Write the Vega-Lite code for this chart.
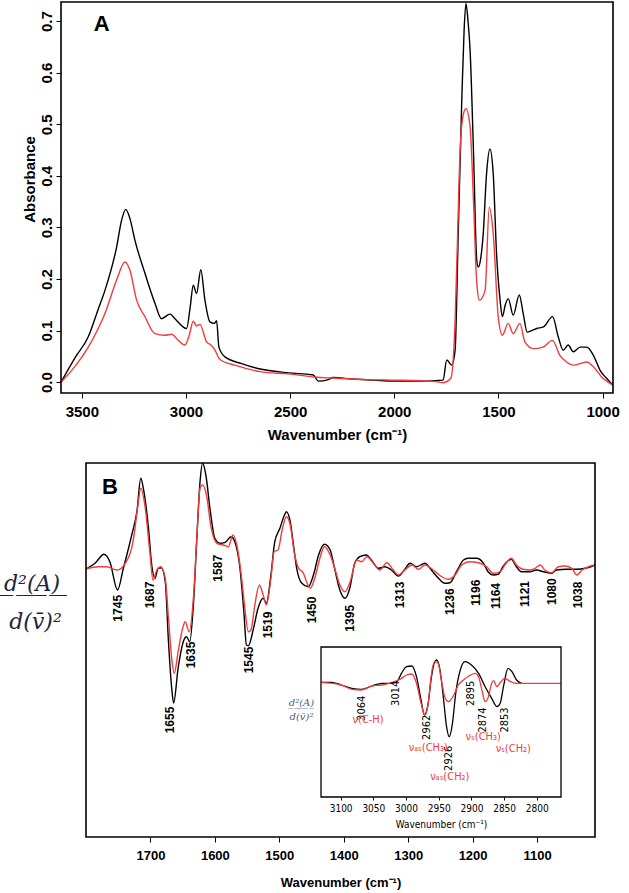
{
  "$schema": "https://vega.github.io/schema/vega-lite/v6.json",
  "width": 529,
  "height": 393,
  "autosize": "none",
  "padding": {"left": 100, "top": 0, "right": 0, "bottom": 500},
  "background": "white",
  "config": {
    "view": {"stroke": null},
    "axis": {"grid": false, "domain": false, "tickColor": "#000", "labelColor": "#000", "titleColor": "#000", "labelFlush": false, "labelOverlap": false, "labelFont": "Liberation Sans", "titleFont": "Liberation Sans"}
  },
  "datasets": {
    "specA": [
      {"wn": 3600, "v": 0.000, "s": "k"}, {"wn": 3530, "v": 0.049, "s": "k"}, {"wn": 3469, "v": 0.088, "s": "k"}, {"wn": 3420, "v": 0.143, "s": "k"},
      {"wn": 3389, "v": 0.178, "s": "k"}, {"wn": 3333, "v": 0.262, "s": "k"}, {"wn": 3309, "v": 0.314, "s": "k"}, {"wn": 3289, "v": 0.335, "s": "k"},
      {"wn": 3269, "v": 0.317, "s": "k"}, {"wn": 3245, "v": 0.275, "s": "k"}, {"wn": 3197, "v": 0.211, "s": "k"}, {"wn": 3149, "v": 0.153, "s": "k"},
      {"wn": 3117, "v": 0.123, "s": "k"}, {"wn": 3077, "v": 0.132, "s": "k"}, {"wn": 3053, "v": 0.123, "s": "k"}, {"wn": 2997, "v": 0.104, "s": "k"},
      {"wn": 2980, "v": 0.145, "s": "k"}, {"wn": 2965, "v": 0.188, "s": "k"}, {"wn": 2949, "v": 0.172, "s": "k"}, {"wn": 2929, "v": 0.218, "s": "k"},
      {"wn": 2909, "v": 0.159, "s": "k"}, {"wn": 2885, "v": 0.117, "s": "k"}, {"wn": 2864, "v": 0.114, "s": "k"}, {"wn": 2853, "v": 0.119, "s": "k"},
      {"wn": 2842, "v": 0.068, "s": "k"}, {"wn": 2813, "v": 0.049, "s": "k"}, {"wn": 2733, "v": 0.036, "s": "k"}, {"wn": 2637, "v": 0.025, "s": "k"},
      {"wn": 2509, "v": 0.018, "s": "k"}, {"wn": 2389, "v": 0.014, "s": "k"}, {"wn": 2365, "v": 0.002, "s": "k"}, {"wn": 2317, "v": 0.005, "s": "k"},
      {"wn": 2294, "v": 0.009, "s": "k"}, {"wn": 2200, "v": 0.006, "s": "k"}, {"wn": 2100, "v": 0.004, "s": "k"}, {"wn": 2006, "v": 0.002, "s": "k"},
      {"wn": 1900, "v": 0.002, "s": "k"}, {"wn": 1800, "v": 0.003, "s": "k"}, {"wn": 1766, "v": 0.004, "s": "k"}, {"wn": 1748, "v": 0.043, "s": "k"},
      {"wn": 1724, "v": 0.033, "s": "k"}, {"wn": 1708, "v": 0.062, "s": "k"}, {"wn": 1693, "v": 0.288, "s": "k"}, {"wn": 1676, "v": 0.547, "s": "k"},
      {"wn": 1665, "v": 0.680, "s": "k"}, {"wn": 1656, "v": 0.734, "s": "k"}, {"wn": 1646, "v": 0.700, "s": "k"}, {"wn": 1636, "v": 0.643, "s": "k"},
      {"wn": 1620, "v": 0.450, "s": "k"}, {"wn": 1604, "v": 0.236, "s": "k"}, {"wn": 1597, "v": 0.223, "s": "k"}, {"wn": 1585, "v": 0.240, "s": "k"},
      {"wn": 1573, "v": 0.288, "s": "k"}, {"wn": 1557, "v": 0.404, "s": "k"}, {"wn": 1541, "v": 0.452, "s": "k"}, {"wn": 1525, "v": 0.404, "s": "k"},
      {"wn": 1509, "v": 0.249, "s": "k"}, {"wn": 1492, "v": 0.159, "s": "k"}, {"wn": 1481, "v": 0.127, "s": "k"}, {"wn": 1467, "v": 0.150, "s": "k"},
      {"wn": 1453, "v": 0.162, "s": "k"}, {"wn": 1429, "v": 0.130, "s": "k"}, {"wn": 1400, "v": 0.169, "s": "k"}, {"wn": 1381, "v": 0.133, "s": "k"},
      {"wn": 1362, "v": 0.097, "s": "k"}, {"wn": 1340, "v": 0.100, "s": "k"}, {"wn": 1316, "v": 0.104, "s": "k"}, {"wn": 1284, "v": 0.107, "s": "k"},
      {"wn": 1240, "v": 0.127, "s": "k"}, {"wn": 1213, "v": 0.088, "s": "k"}, {"wn": 1189, "v": 0.062, "s": "k"}, {"wn": 1165, "v": 0.072, "s": "k"},
      {"wn": 1141, "v": 0.059, "s": "k"}, {"wn": 1108, "v": 0.068, "s": "k"}, {"wn": 1076, "v": 0.068, "s": "k"}, {"wn": 1044, "v": 0.052, "s": "k"},
      {"wn": 1012, "v": 0.023, "s": "k"}, {"wn": 980, "v": 0.007, "s": "k"}, {"wn": 950, "v": -0.006, "s": "k"},
      {"wn": 3600, "v": 0.000, "s": "r"}, {"wn": 3530, "v": 0.032, "s": "r"}, {"wn": 3469, "v": 0.068, "s": "r"}, {"wn": 3420, "v": 0.105, "s": "r"},
      {"wn": 3389, "v": 0.133, "s": "r"}, {"wn": 3333, "v": 0.198, "s": "r"}, {"wn": 3293, "v": 0.233, "s": "r"}, {"wn": 3269, "v": 0.217, "s": "r"},
      {"wn": 3237, "v": 0.159, "s": "r"}, {"wn": 3197, "v": 0.127, "s": "r"}, {"wn": 3149, "v": 0.094, "s": "r"}, {"wn": 3101, "v": 0.091, "s": "r"},
      {"wn": 3069, "v": 0.093, "s": "r"}, {"wn": 3037, "v": 0.081, "s": "r"}, {"wn": 3005, "v": 0.072, "s": "r"}, {"wn": 2985, "v": 0.090, "s": "r"},
      {"wn": 2965, "v": 0.118, "s": "r"}, {"wn": 2949, "v": 0.109, "s": "r"}, {"wn": 2933, "v": 0.112, "s": "r"}, {"wn": 2901, "v": 0.078, "s": "r"},
      {"wn": 2880, "v": 0.072, "s": "r"}, {"wn": 2861, "v": 0.062, "s": "r"}, {"wn": 2837, "v": 0.044, "s": "r"}, {"wn": 2765, "v": 0.033, "s": "r"},
      {"wn": 2637, "v": 0.020, "s": "r"}, {"wn": 2509, "v": 0.016, "s": "r"}, {"wn": 2381, "v": 0.010, "s": "r"}, {"wn": 2300, "v": 0.008, "s": "r"},
      {"wn": 2132, "v": 0.005, "s": "r"}, {"wn": 2000, "v": 0.004, "s": "r"}, {"wn": 1800, "v": 0.001, "s": "r"}, {"wn": 1765, "v": -0.001, "s": "r"},
      {"wn": 1728, "v": 0.008, "s": "r"}, {"wn": 1708, "v": 0.120, "s": "r"}, {"wn": 1695, "v": 0.300, "s": "r"}, {"wn": 1684, "v": 0.450, "s": "r"},
      {"wn": 1668, "v": 0.520, "s": "r"}, {"wn": 1656, "v": 0.530, "s": "r"}, {"wn": 1636, "v": 0.495, "s": "r"}, {"wn": 1620, "v": 0.353, "s": "r"},
      {"wn": 1604, "v": 0.192, "s": "r"}, {"wn": 1591, "v": 0.159, "s": "r"}, {"wn": 1564, "v": 0.178, "s": "r"}, {"wn": 1544, "v": 0.339, "s": "r"},
      {"wn": 1525, "v": 0.288, "s": "r"}, {"wn": 1501, "v": 0.127, "s": "r"}, {"wn": 1481, "v": 0.091, "s": "r"}, {"wn": 1453, "v": 0.114, "s": "r"},
      {"wn": 1429, "v": 0.094, "s": "r"}, {"wn": 1397, "v": 0.114, "s": "r"}, {"wn": 1373, "v": 0.078, "s": "r"}, {"wn": 1333, "v": 0.065, "s": "r"},
      {"wn": 1285, "v": 0.068, "s": "r"}, {"wn": 1241, "v": 0.081, "s": "r"}, {"wn": 1205, "v": 0.052, "s": "r"}, {"wn": 1173, "v": 0.039, "s": "r"},
      {"wn": 1141, "v": 0.033, "s": "r"}, {"wn": 1076, "v": 0.039, "s": "r"}, {"wn": 1044, "v": 0.030, "s": "r"}, {"wn": 1004, "v": 0.010, "s": "r"},
      {"wn": 950, "v": -0.006, "s": "r"}
    ],
    "specB": [
      {"wn": 1800, "v": -0.2, "s": "k"}, {"wn": 1786, "v": 0.37, "s": "k"}, {"wn": 1772, "v": 1.27, "s": "k"}, {"wn": 1763, "v": 0.53, "s": "k"},
      {"wn": 1751, "v": -2.3, "s": "k"}, {"wn": 1742, "v": -0.13, "s": "k"}, {"wn": 1729, "v": 3.2, "s": "k"}, {"wn": 1721, "v": 5.53, "s": "k"},
      {"wn": 1715, "v": 8.87, "s": "k"}, {"wn": 1711, "v": 7.87, "s": "k"}, {"wn": 1703, "v": 3.87, "s": "k"}, {"wn": 1698, "v": 0.2, "s": "k"},
      {"wn": 1693, "v": -1.13, "s": "k"}, {"wn": 1688, "v": -0.13, "s": "k"}, {"wn": 1683, "v": -0.07, "s": "k"}, {"wn": 1677, "v": -1.47, "s": "k"},
      {"wn": 1672, "v": -7.47, "s": "k"}, {"wn": 1667, "v": -12.1, "s": "k"}, {"wn": 1664, "v": -13.6, "s": "k"}, {"wn": 1657, "v": -10.1, "s": "k"},
      {"wn": 1649, "v": -7.47, "s": "k"}, {"wn": 1644, "v": -6.97, "s": "k"}, {"wn": 1639, "v": -7.47, "s": "k"}, {"wn": 1633, "v": -3.47, "s": "k"},
      {"wn": 1628, "v": 2.87, "s": "k"}, {"wn": 1623, "v": 8.53, "s": "k"}, {"wn": 1619, "v": 10.37, "s": "k"}, {"wn": 1614, "v": 9.2, "s": "k"},
      {"wn": 1607, "v": 5.53, "s": "k"}, {"wn": 1600, "v": 2.87, "s": "k"}, {"wn": 1592, "v": 2.37, "s": "k"}, {"wn": 1584, "v": 2.47, "s": "k"},
      {"wn": 1575, "v": 3.03, "s": "k"}, {"wn": 1569, "v": 2.53, "s": "k"}, {"wn": 1561, "v": -0.13, "s": "k"}, {"wn": 1555, "v": -4.47, "s": "k"},
      {"wn": 1551, "v": -7.8, "s": "k"}, {"wn": 1548, "v": -7.87, "s": "k"}, {"wn": 1540, "v": -6.13, "s": "k"}, {"wn": 1533, "v": -4.13, "s": "k"},
      {"wn": 1525, "v": -3.13, "s": "k"}, {"wn": 1520, "v": -3.63, "s": "k"}, {"wn": 1513, "v": -0.8, "s": "k"}, {"wn": 1507, "v": 2.53, "s": "k"},
      {"wn": 1499, "v": 3.87, "s": "k"}, {"wn": 1492, "v": 5.2, "s": "k"}, {"wn": 1489, "v": 5.53, "s": "k"}, {"wn": 1483, "v": 4.53, "s": "k"},
      {"wn": 1478, "v": 2.2, "s": "k"}, {"wn": 1473, "v": -0.13, "s": "k"}, {"wn": 1465, "v": -1.63, "s": "k"}, {"wn": 1455, "v": -1.97, "s": "k"},
      {"wn": 1447, "v": -0.8, "s": "k"}, {"wn": 1439, "v": 1.2, "s": "k"}, {"wn": 1430, "v": 2.27, "s": "k"}, {"wn": 1421, "v": 1.7, "s": "k"},
      {"wn": 1414, "v": -0.2, "s": "k"}, {"wn": 1406, "v": -2.3, "s": "k"}, {"wn": 1398, "v": -3.13, "s": "k"}, {"wn": 1390, "v": -1.97, "s": "k"},
      {"wn": 1383, "v": 0.37, "s": "k"}, {"wn": 1375, "v": 1.03, "s": "k"}, {"wn": 1365, "v": 1.2, "s": "k"}, {"wn": 1357, "v": 0.7, "s": "k"},
      {"wn": 1346, "v": -0.13, "s": "k"}, {"wn": 1336, "v": 0.03, "s": "k"}, {"wn": 1326, "v": -0.3, "s": "k"}, {"wn": 1315, "v": -0.9, "s": "k"},
      {"wn": 1306, "v": -0.3, "s": "k"}, {"wn": 1297, "v": 0.37, "s": "k"}, {"wn": 1287, "v": 0.03, "s": "k"}, {"wn": 1274, "v": 0.37, "s": "k"},
      {"wn": 1264, "v": -0.3, "s": "k"}, {"wn": 1253, "v": -1.13, "s": "k"}, {"wn": 1243, "v": -1.63, "s": "k"}, {"wn": 1235, "v": -1.57, "s": "k"},
      {"wn": 1225, "v": -0.47, "s": "k"}, {"wn": 1214, "v": 0.7, "s": "k"}, {"wn": 1207, "v": 0.87, "s": "k"}, {"wn": 1194, "v": 0.87, "s": "k"},
      {"wn": 1183, "v": 0.37, "s": "k"}, {"wn": 1176, "v": -0.47, "s": "k"}, {"wn": 1168, "v": -0.8, "s": "k"}, {"wn": 1160, "v": -0.73, "s": "k"},
      {"wn": 1153, "v": 0.03, "s": "k"}, {"wn": 1140, "v": 0.77, "s": "k"}, {"wn": 1132, "v": 0.03, "s": "k"}, {"wn": 1124, "v": -0.47, "s": "k"},
      {"wn": 1111, "v": -0.47, "s": "k"}, {"wn": 1101, "v": -0.3, "s": "k"}, {"wn": 1090, "v": -0.47, "s": "k"}, {"wn": 1077, "v": -0.63, "s": "k"},
      {"wn": 1070, "v": -0.3, "s": "k"}, {"wn": 1054, "v": -0.23, "s": "k"}, {"wn": 1038, "v": -0.23, "s": "k"}, {"wn": 1025, "v": -0.13, "s": "k"},
      {"wn": 1010, "v": 0.2, "s": "k"},
      {"wn": 1800, "v": -0.2, "s": "r"}, {"wn": 1781, "v": 0.03, "s": "r"}, {"wn": 1768, "v": 0.03, "s": "r"}, {"wn": 1752, "v": -0.3, "s": "r"},
      {"wn": 1739, "v": 0.37, "s": "r"}, {"wn": 1727, "v": 2.53, "s": "r"}, {"wn": 1720, "v": 5.87, "s": "r"}, {"wn": 1715, "v": 7.87, "s": "r"},
      {"wn": 1708, "v": 5.87, "s": "r"}, {"wn": 1701, "v": 1.53, "s": "r"}, {"wn": 1696, "v": -1.3, "s": "r"}, {"wn": 1690, "v": -0.3, "s": "r"},
      {"wn": 1684, "v": 0.03, "s": "r"}, {"wn": 1677, "v": -1.13, "s": "r"}, {"wn": 1672, "v": -5.13, "s": "r"}, {"wn": 1667, "v": -9.13, "s": "r"},
      {"wn": 1663, "v": -10.63, "s": "r"}, {"wn": 1657, "v": -8.47, "s": "r"}, {"wn": 1650, "v": -6.13, "s": "r"}, {"wn": 1646, "v": -5.47, "s": "r"},
      {"wn": 1640, "v": -6.47, "s": "r"}, {"wn": 1633, "v": -2.8, "s": "r"}, {"wn": 1628, "v": 2.87, "s": "r"}, {"wn": 1623, "v": 7.87, "s": "r"},
      {"wn": 1619, "v": 8.2, "s": "r"}, {"wn": 1613, "v": 7.2, "s": "r"}, {"wn": 1606, "v": 4.03, "s": "r"}, {"wn": 1597, "v": 2.37, "s": "r"},
      {"wn": 1587, "v": 2.2, "s": "r"}, {"wn": 1579, "v": 2.03, "s": "r"}, {"wn": 1572, "v": 3.2, "s": "r"}, {"wn": 1566, "v": 2.2, "s": "r"},
      {"wn": 1559, "v": -0.8, "s": "r"}, {"wn": 1554, "v": -3.8, "s": "r"}, {"wn": 1548, "v": -6.47, "s": "r"}, {"wn": 1544, "v": -6.3, "s": "r"},
      {"wn": 1538, "v": -3.8, "s": "r"}, {"wn": 1531, "v": -1.8, "s": "r"}, {"wn": 1525, "v": -2.8, "s": "r"}, {"wn": 1520, "v": -3.8, "s": "r"},
      {"wn": 1513, "v": -1.13, "s": "r"}, {"wn": 1508, "v": 1.53, "s": "r"}, {"wn": 1502, "v": 1.7, "s": "r"}, {"wn": 1495, "v": 3.87, "s": "r"},
      {"wn": 1489, "v": 5.03, "s": "r"}, {"wn": 1483, "v": 4.2, "s": "r"}, {"wn": 1477, "v": 1.53, "s": "r"}, {"wn": 1470, "v": -0.13, "s": "r"},
      {"wn": 1464, "v": -0.47, "s": "r"}, {"wn": 1452, "v": -2.13, "s": "r"}, {"wn": 1445, "v": -1.13, "s": "r"}, {"wn": 1437, "v": 0.87, "s": "r"},
      {"wn": 1430, "v": 2.03, "s": "r"}, {"wn": 1421, "v": 1.2, "s": "r"}, {"wn": 1414, "v": -0.13, "s": "r"}, {"wn": 1406, "v": -1.8, "s": "r"},
      {"wn": 1398, "v": -2.47, "s": "r"}, {"wn": 1390, "v": -1.47, "s": "r"}, {"wn": 1380, "v": 0.7, "s": "r"}, {"wn": 1372, "v": 0.53, "s": "r"},
      {"wn": 1364, "v": 1.03, "s": "r"}, {"wn": 1354, "v": 0.37, "s": "r"}, {"wn": 1344, "v": -0.3, "s": "r"}, {"wn": 1333, "v": 0.43, "s": "r"},
      {"wn": 1323, "v": -0.3, "s": "r"}, {"wn": 1315, "v": -0.8, "s": "r"}, {"wn": 1305, "v": -0.3, "s": "r"}, {"wn": 1294, "v": 0.2, "s": "r"},
      {"wn": 1284, "v": -0.23, "s": "r"}, {"wn": 1274, "v": 0.2, "s": "r"}, {"wn": 1261, "v": -0.3, "s": "r"}, {"wn": 1248, "v": -0.97, "s": "r"},
      {"wn": 1238, "v": -1.23, "s": "r"}, {"wn": 1227, "v": -0.8, "s": "r"}, {"wn": 1217, "v": 0.2, "s": "r"}, {"wn": 1204, "v": 0.53, "s": "r"},
      {"wn": 1191, "v": 0.43, "s": "r"}, {"wn": 1178, "v": 0.03, "s": "r"}, {"wn": 1168, "v": -0.63, "s": "r"}, {"wn": 1157, "v": -0.47, "s": "r"},
      {"wn": 1150, "v": 0.2, "s": "r"}, {"wn": 1140, "v": 0.87, "s": "r"}, {"wn": 1132, "v": 0.2, "s": "r"}, {"wn": 1122, "v": -0.23, "s": "r"},
      {"wn": 1111, "v": -0.3, "s": "r"}, {"wn": 1103, "v": -0.13, "s": "r"}, {"wn": 1095, "v": 0.2, "s": "r"}, {"wn": 1088, "v": -0.3, "s": "r"},
      {"wn": 1077, "v": -0.57, "s": "r"}, {"wn": 1067, "v": 0.03, "s": "r"}, {"wn": 1057, "v": 0.1, "s": "r"}, {"wn": 1046, "v": -0.13, "s": "r"},
      {"wn": 1038, "v": -0.8, "s": "r"}, {"wn": 1030, "v": -0.3, "s": "r"}, {"wn": 1020, "v": 0.03, "s": "r"}, {"wn": 1010, "v": 0.2, "s": "r"}
    ],
    "labelsB": [
      {"wn": 1750, "v": -4.13, "t": "1745"}, {"wn": 1701, "v": -2.8, "t": "1687"}, {"wn": 1669, "v": -15.3, "t": "1655"},
      {"wn": 1637, "v": -8.8, "t": "1635"}, {"wn": 1595, "v": -0.13, "t": "1587"}, {"wn": 1547, "v": -9.3, "t": "1545"},
      {"wn": 1518, "v": -5.8, "t": "1519"}, {"wn": 1450, "v": -4.3, "t": "1450"}, {"wn": 1390, "v": -5.13, "t": "1395"},
      {"wn": 1313, "v": -2.8, "t": "1313"}, {"wn": 1235, "v": -3.47, "t": "1236"}, {"wn": 1194, "v": -2.57, "t": "1196"},
      {"wn": 1163, "v": -2.9, "t": "1164"}, {"wn": 1119, "v": -2.7, "t": "1121"}, {"wn": 1077, "v": -2.47, "t": "1080"},
      {"wn": 1036, "v": -2.8, "t": "1038"}
    ],
    "inset": [
      {"wn": 3130, "v": 0.07, "s": "k"}, {"wn": 3114, "v": 0.07, "s": "k"}, {"wn": 3099, "v": -0.2, "s": "k"}, {"wn": 3083, "v": -0.53, "s": "k"},
      {"wn": 3068, "v": -0.63, "s": "k"}, {"wn": 3052, "v": -0.3, "s": "k"}, {"wn": 3037, "v": -0.03, "s": "k"}, {"wn": 3024, "v": -0.03, "s": "k"},
      {"wn": 3014, "v": 0.13, "s": "k"}, {"wn": 3007, "v": 0.97, "s": "k"}, {"wn": 2999, "v": 1.63, "s": "k"}, {"wn": 2991, "v": 1.7, "s": "k"},
      {"wn": 2984, "v": 0.63, "s": "k"}, {"wn": 2977, "v": -1.7, "s": "k"}, {"wn": 2972, "v": -3.2, "s": "k"}, {"wn": 2967, "v": -2.37, "s": "k"},
      {"wn": 2961, "v": 0.63, "s": "k"}, {"wn": 2957, "v": 1.97, "s": "k"}, {"wn": 2953, "v": 2.3, "s": "k"}, {"wn": 2948, "v": 1.3, "s": "k"},
      {"wn": 2943, "v": -1.37, "s": "k"}, {"wn": 2938, "v": -4.37, "s": "k"}, {"wn": 2934, "v": -5.37, "s": "k"}, {"wn": 2929, "v": -4.03, "s": "k"},
      {"wn": 2924, "v": -1.03, "s": "k"}, {"wn": 2917, "v": 1.3, "s": "k"}, {"wn": 2910, "v": 2.13, "s": "k"}, {"wn": 2900, "v": 1.8, "s": "k"},
      {"wn": 2889, "v": 0.97, "s": "k"}, {"wn": 2879, "v": -0.37, "s": "k"}, {"wn": 2869, "v": -1.53, "s": "k"}, {"wn": 2861, "v": -2.37, "s": "k"},
      {"wn": 2856, "v": -2.03, "s": "k"}, {"wn": 2851, "v": -0.37, "s": "k"}, {"wn": 2844, "v": 1.47, "s": "k"}, {"wn": 2838, "v": 1.13, "s": "k"},
      {"wn": 2831, "v": 0.3, "s": "k"}, {"wn": 2823, "v": -0.03, "s": "k"},
      {"wn": 3130, "v": 0.07, "s": "r"}, {"wn": 3099, "v": -0.2, "s": "r"}, {"wn": 3083, "v": -0.63, "s": "r"}, {"wn": 3068, "v": -0.7, "s": "r"},
      {"wn": 3052, "v": -0.3, "s": "r"}, {"wn": 3037, "v": -0.2, "s": "r"}, {"wn": 3022, "v": 0.03, "s": "r"}, {"wn": 3009, "v": 0.37, "s": "r"},
      {"wn": 2999, "v": 0.8, "s": "r"}, {"wn": 2991, "v": 0.9, "s": "r"}, {"wn": 2984, "v": -0.03, "s": "r"}, {"wn": 2977, "v": -2.03, "s": "r"},
      {"wn": 2971, "v": -3.2, "s": "r"}, {"wn": 2966, "v": -2.03, "s": "r"}, {"wn": 2961, "v": 0.97, "s": "r"}, {"wn": 2956, "v": 2.13, "s": "r"},
      {"wn": 2951, "v": 1.97, "s": "r"}, {"wn": 2946, "v": 0.3, "s": "r"}, {"wn": 2940, "v": -1.53, "s": "r"}, {"wn": 2935, "v": -1.87, "s": "r"},
      {"wn": 2927, "v": -1.2, "s": "r"}, {"wn": 2920, "v": -0.2, "s": "r"}, {"wn": 2912, "v": 0.3, "s": "r"}, {"wn": 2904, "v": 0.7, "s": "r"},
      {"wn": 2894, "v": 0.97, "s": "r"}, {"wn": 2889, "v": 0.63, "s": "r"}, {"wn": 2884, "v": -0.7, "s": "r"}, {"wn": 2879, "v": -1.87, "s": "r"},
      {"wn": 2874, "v": -1.37, "s": "r"}, {"wn": 2869, "v": -0.03, "s": "r"}, {"wn": 2866, "v": 0.23, "s": "r"}, {"wn": 2861, "v": -0.37, "s": "r"},
      {"wn": 2856, "v": 0.03, "s": "r"}, {"wn": 2849, "v": 0.47, "s": "r"}, {"wn": 2840, "v": 0.13, "s": "r"}, {"wn": 2831, "v": -0.03, "s": "r"},
      {"wn": 2813, "v": -0.03, "s": "r"}, {"wn": 2763, "v": -0.03, "s": "r"}
    ],
    "insetLabels": [
      {"wn": 3068, "v": -2.53, "t": "3064"}, {"wn": 3015, "v": -1.03, "t": "3014"}, {"wn": 2968, "v": -4.43, "t": "2962"},
      {"wn": 2934, "v": -7.53, "t": "2926"}, {"wn": 2900, "v": -1.03, "t": "2895"}, {"wn": 2882, "v": -3.7, "t": "2874"},
      {"wn": 2849, "v": -3.7, "t": "2853"}
    ],
    "insetNotes": [
      {"wn": 3058, "v": -3.7, "t": "ν(C-H)"}, {"wn": 2966, "v": -6.53, "t": "νₐₛ(CH₃)"}, {"wn": 2933, "v": -9.37, "t": "νₐₛ(CH₂)"},
      {"wn": 2882, "v": -5.37, "t": "νₛ(CH₃)"}, {"wn": 2836, "v": -6.63, "t": "νₛ(CH₂)"}
    ]
  },
  "layer": [
    {
      "layer": [
        {
          "data": {"name": "specA"},
          "encoding": {
            "x": {"field": "wn", "type": "quantitative",
              "scale": {"domain": [3600, 950], "range": [-39, 513], "nice": false, "zero": false},
              "axis": {"orient": "bottom", "offset": 0, "values": [3500, 3000, 2500, 2000, 1500, 1000], "format": "d", "tickSize": 5, "tickWidth": 1,
                "labelFontSize": 15, "labelFontWeight": "bold", "labelPadding": 6,
                "title": "Wavenumber (cm⁻¹)", "titleFontSize": 15, "titleFontWeight": "bold", "titleY": 41, "titleBaseline": "middle"}},
            "y": {"field": "v", "type": "quantitative",
              "scale": {"domain": [-0.021, 0.737], "range": [393, 2], "nice": false, "zero": false},
              "axis": {"orient": "left", "offset": 39, "values": [0, 0.1, 0.2, 0.3, 0.4, 0.5, 0.6, 0.7], "format": ".1f", "tickSize": 5, "tickWidth": 1,
                "labelFontSize": 15, "labelFontWeight": "bold", "labelAngle": 270, "labelAlign": "center", "labelBaseline": "bottom", "labelPadding": 2,
                "title": "Absorbance", "titleFontSize": 15, "titleFontWeight": "bold", "titleAngle": 270, "titleX": -32, "titleY": 179, "titleAlign": "center", "titleBaseline": "middle"}}
          },
          "layer": [
            {"transform": [{"filter": "datum.s === 'k'"}], "mark": {"type": "line", "color": "#000000", "strokeWidth": 1.4, "interpolate": "monotone"}},
            {"transform": [{"filter": "datum.s === 'r'"}], "mark": {"type": "line", "color": "#f23c3c", "strokeWidth": 1.4, "interpolate": "monotone"}}
          ]
        },
        {"data": {"values": [{"p": "A"}]},
          "mark": {"type": "rect", "fill": null, "stroke": "#000000", "strokeWidth": 1.6},
          "encoding": {"x": {"datum": 3600, "type": "quantitative"}, "x2": {"datum": 950},
            "y": {"datum": -0.021, "type": "quantitative"}, "y2": {"datum": 0.737}}},
        {"data": {"values": [{"p": "A"}]},
          "mark": {"type": "text", "text": "A", "fontSize": 22, "fontWeight": "bold", "font": "Liberation Sans", "align": "center", "baseline": "middle"},
          "encoding": {"x": {"datum": 3405, "type": "quantitative"}, "y": {"datum": 0.695, "type": "quantitative"}}}
      ]
    },
    {
      "layer": [
        {
          "data": {"name": "specB"},
          "encoding": {
            "x": {"field": "wn", "type": "quantitative",
              "scale": {"domain": [1800, 1010], "range": [-14, 495], "nice": false, "zero": false},
              "axis": {"orient": "bottom", "offset": 444, "values": [1700, 1600, 1500, 1400, 1300, 1200, 1100], "format": "d", "tickSize": 5, "tickWidth": 1,
                "labelFontSize": 13, "labelFontWeight": "bold", "labelPadding": 7,
                "title": "Wavenumber (cm⁻¹)", "titleFontSize": 13, "titleFontWeight": "bold", "titleY": 45, "titleBaseline": "middle"}},
            "y": {"field": "v", "type": "quantitative",
              "scale": {"domain": [-27, 10.4], "range": [837, 463], "nice": false, "zero": false},
              "axis": {"orient": "left", "offset": 14, "values": [0], "ticks": false, "labels": false,
                "title": ["\u00a0̲d̲²̲(̲A̲)̲\u00a0̲", "d(v̄)²"], "titleFont": "DejaVu Serif", "titleFontStyle": "italic", "titleFontWeight": "normal", "titleFontSize": 22,
                "titleColor": "#1c2540", "titleLineHeight": 38, "titleAngle": 0, "titleX": -51, "titleY": 583, "titleAlign": "center", "titleBaseline": "middle"}}
          },
          "layer": [
            {"transform": [{"filter": "datum.s === 'k'"}], "mark": {"type": "line", "color": "#000000", "strokeWidth": 1.4, "interpolate": "monotone"}},
            {"transform": [{"filter": "datum.s === 'r'"}], "mark": {"type": "line", "color": "#f23c3c", "strokeWidth": 1.4, "interpolate": "monotone"}}
          ]
        },
        {"data": {"name": "labelsB"},
          "mark": {"type": "text", "angle": 270, "fontSize": 12, "fontWeight": "bold", "font": "Liberation Sans", "align": "center", "baseline": "middle", "color": "#000000"},
          "encoding": {"x": {"field": "wn", "type": "quantitative"}, "y": {"field": "v", "type": "quantitative"}, "text": {"field": "t"}}},
        {"data": {"values": [{"p": "B"}]},
          "mark": {"type": "rect", "fill": null, "stroke": "#000000", "strokeWidth": 1.6},
          "encoding": {"x": {"datum": 1800, "type": "quantitative"}, "x2": {"datum": 1010},
            "y": {"datum": -27, "type": "quantitative"}, "y2": {"datum": 10.4}}},
        {"data": {"values": [{"p": "B"}]},
          "mark": {"type": "text", "text": "B", "fontSize": 22, "fontWeight": "bold", "font": "Liberation Sans", "align": "center", "baseline": "middle"},
          "encoding": {"x": {"datum": 1763, "type": "quantitative"}, "y": {"datum": 8.03, "type": "quantitative"}}}
      ]
    },
    {
      "layer": [
        {
          "data": {"name": "inset"},
          "encoding": {
            "x": {"field": "wn", "type": "quantitative",
              "scale": {"domain": [3130, 2763], "range": [221, 461], "nice": false, "zero": false},
              "axis": {"orient": "bottom", "offset": 404, "values": [3100, 3050, 3000, 2950, 2900, 2850, 2800], "format": "d", "tickSize": 3, "tickWidth": 1,
                "labelFont": "Liberation Sans Narrow, DejaVu Sans Condensed, Liberation Sans", "labelFontSize": 10, "labelPadding": 3,
                "title": "Wavenumber (cm⁻¹)", "titleFont": "Liberation Sans Narrow, DejaVu Sans Condensed, Liberation Sans", "titleFontSize": 10, "titleFontWeight": "normal",
                "titleY": 27, "titleBaseline": "middle"}},
            "y": {"field": "v", "type": "quantitative",
              "scale": {"domain": [-11.4, 3.6], "range": [797, 647], "nice": false, "zero": false},
              "axis": {"orient": "left", "offset": -221, "values": [0], "ticks": false, "labels": false,
                "title": ["d̲²̲(̲A̲)̲", "d(v̄)²"], "titleFont": "DejaVu Serif", "titleFontStyle": "italic", "titleFontWeight": "normal", "titleFontSize": 10,
                "titleColor": "#4a6082", "titleLineHeight": 14, "titleAngle": 0, "titleX": -20, "titleY": 702, "titleAlign": "center", "titleBaseline": "middle"}}
          },
          "layer": [
            {"transform": [{"filter": "datum.s === 'k'"}], "mark": {"type": "line", "color": "#000000", "strokeWidth": 1.3, "interpolate": "monotone"}},
            {"transform": [{"filter": "datum.s === 'r'"}], "mark": {"type": "line", "color": "#f23c3c", "strokeWidth": 1.3, "interpolate": "monotone"}}
          ]
        },
        {"data": {"name": "insetLabels"},
          "mark": {"type": "text", "angle": 270, "fontSize": 11, "font": "Liberation Sans Narrow, DejaVu Sans Condensed, Liberation Sans", "align": "center", "baseline": "middle", "color": "#000000"},
          "encoding": {"x": {"field": "wn", "type": "quantitative"}, "y": {"field": "v", "type": "quantitative"}, "text": {"field": "t"}}},
        {"data": {"name": "insetNotes"},
          "mark": {"type": "text", "fontSize": 11, "font": "Liberation Sans Narrow, DejaVu Sans Condensed, Liberation Sans", "align": "center", "baseline": "middle", "color": "#f23c3c"},
          "encoding": {"x": {"field": "wn", "type": "quantitative"}, "y": {"field": "v", "type": "quantitative"}, "text": {"field": "t"}}},
        {"data": {"values": [{"p": "inset"}]},
          "mark": {"type": "rect", "fill": null, "stroke": "#000000", "strokeWidth": 1.3},
          "encoding": {"x": {"datum": 3130, "type": "quantitative"}, "x2": {"datum": 2763},
            "y": {"datum": -11.4, "type": "quantitative"}, "y2": {"datum": 3.6}}}
      ]
    }
  ],
  "resolve": {"scale": {"x": "independent", "y": "independent"}}
}
